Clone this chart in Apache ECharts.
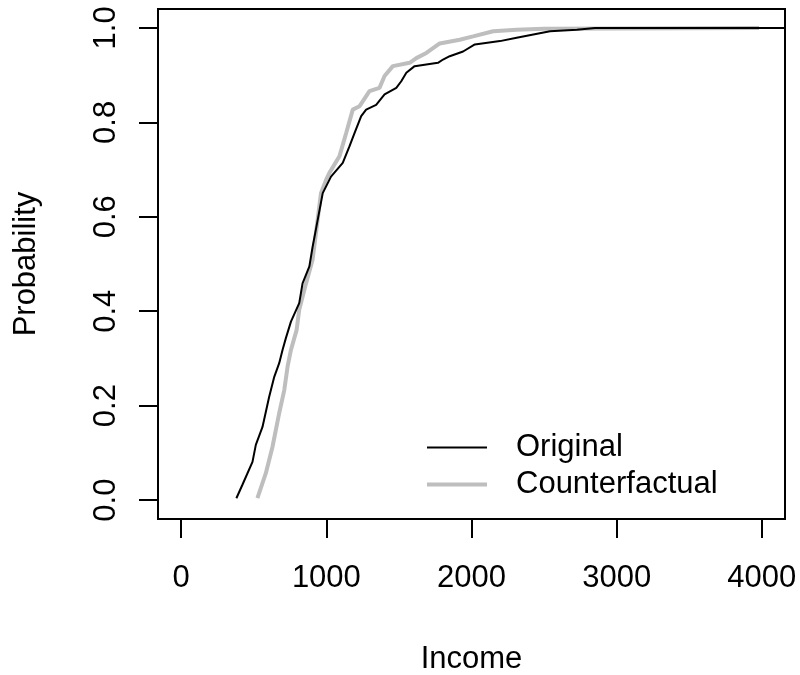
<!DOCTYPE html>
<html>
<head>
<meta charset="utf-8">
<script src="https://cdn.jsdelivr.net/npm/echarts@6/dist/echarts.min.js"></script>
<style>
html,body{margin:0;padding:0;background:#fff;}
#chart{width:800px;height:675px;}
</style>
</head>
<body>
<div id="chart"></div>
<script>
// Series names
const seriesNames = ['Original', 'Counterfactual'];
// Original ECDF (income, cumulative probability)
const originalIncome = [380, 421, 491, 514, 560, 606, 641, 675, 698, 721, 756, 813, 836, 883, 905, 929, 975, 1032, 1113, 1159, 1194, 1240, 1274, 1343, 1401, 1482, 1516, 1551, 1608, 1769, 1804, 1850, 1942, 2023, 2196, 2311, 2541, 2726, 2850, 4300];
const originalProb = [0.004, 0.032, 0.081, 0.117, 0.155, 0.219, 0.261, 0.290, 0.318, 0.343, 0.378, 0.417, 0.459, 0.495, 0.536, 0.575, 0.650, 0.685, 0.714, 0.749, 0.777, 0.813, 0.827, 0.837, 0.859, 0.873, 0.887, 0.905, 0.919, 0.926, 0.933, 0.940, 0.950, 0.965, 0.972, 0.979, 0.993, 0.996, 1.0, 1.0];
// Counterfactual ECDF
const counterIncome = [525, 583, 629, 675, 710, 733, 756, 779, 795, 813, 860, 905, 940, 963, 998, 1021, 1090, 1136, 1182, 1228, 1297, 1366, 1401, 1458, 1574, 1620, 1689, 1781, 1919, 2011, 2149, 2311, 2500, 3981];
const counterProb = [0.004, 0.057, 0.113, 0.184, 0.233, 0.283, 0.318, 0.343, 0.360, 0.403, 0.459, 0.509, 0.594, 0.650, 0.678, 0.693, 0.728, 0.777, 0.827, 0.834, 0.866, 0.873, 0.898, 0.919, 0.926, 0.936, 0.947, 0.967, 0.975, 0.982, 0.993, 0.996, 0.998, 1.0];
// Axis ticks
const xTicks = [0, 1000, 2000, 3000, 4000];
const yTicks = [0, 0.2, 0.4, 0.6, 0.8, 1.0];
const xTitle = 'Income';
const yTitle = 'Probability';

const FONT = 'Liberation Sans, Arial, Helvetica, sans-serif';
const zip = (a, b) => a.map((v, i) => [v, b[i]]);

const chart = echarts.init(document.getElementById('chart'));
chart.setOption({
  animation: false,
  backgroundColor: '#ffffff',
  textStyle: { fontFamily: FONT },
  grid: {
    left: 158, right: 15, top: 9, bottom: 156,
    show: true, borderColor: '#000', borderWidth: 2, backgroundColor: 'transparent',
    containLabel: false, outerBoundsMode: 'none'
  },
  legend: {
    orient: 'vertical',
    left: 427, top: 432, padding: 0,
    itemWidth: 60, itemHeight: 14, itemGap: 6,
    data: [
      { name: seriesNames[0], icon: 'path://M0,0 L60,0 L60,2 L0,2 Z', itemStyle: { color: '#000' } },
      { name: seriesNames[1], icon: 'path://M0,0 L60,0 L60,4 L0,4 Z', itemStyle: { color: '#bebebe' } }
    ],
    textStyle: { fontSize: 31, color: '#000', fontFamily: FONT, lineHeight: 31, padding: [0, 0, 0, 24] },
    selectedMode: false
  },
  xAxis: {
    type: 'value', min: -160, max: 4160,
    name: xTitle, nameLocation: 'middle', nameGap: 125,
    nameTextStyle: { fontSize: 31, color: '#000', fontFamily: FONT },
    axisLine: { show: false, onZero: false },
    splitLine: { show: false },
    axisTick: { show: true, length: 19, inside: false, customValues: xTicks, lineStyle: { color: '#000', width: 2 } },
    axisLabel: { show: true, margin: 44, fontSize: 31, color: '#000', fontFamily: FONT, customValues: xTicks, formatter: v => String(v) }
  },
  yAxis: {
    type: 'value', min: -0.04, max: 1.04,
    name: yTitle, nameLocation: 'middle', nameGap: 116, nameRotate: 90,
    nameTextStyle: { fontSize: 31, color: '#000', fontFamily: FONT },
    axisLine: { show: false, onZero: false },
    splitLine: { show: false },
    axisTick: { show: true, length: 19, inside: false, customValues: yTicks, lineStyle: { color: '#000', width: 2 } },
    axisLabel: { show: true, rotate: 90, margin: 36, fontSize: 31, color: '#000', fontFamily: FONT, customValues: yTicks, formatter: v => v.toFixed(1) }
  },
  series: [
    {
      name: seriesNames[0], type: 'line', data: zip(originalIncome, originalProb),
      showSymbol: false, symbol: 'none', clip: true,
      lineStyle: { color: '#000', width: 2 }, itemStyle: { color: '#000' }, z: 3
    },
    {
      name: seriesNames[1], type: 'line', data: zip(counterIncome, counterProb),
      showSymbol: false, symbol: 'none', clip: true,
      lineStyle: { color: '#bebebe', width: 4 }, itemStyle: { color: '#bebebe' }, z: 2
    }
  ]
});
</script>
</body>
</html>
